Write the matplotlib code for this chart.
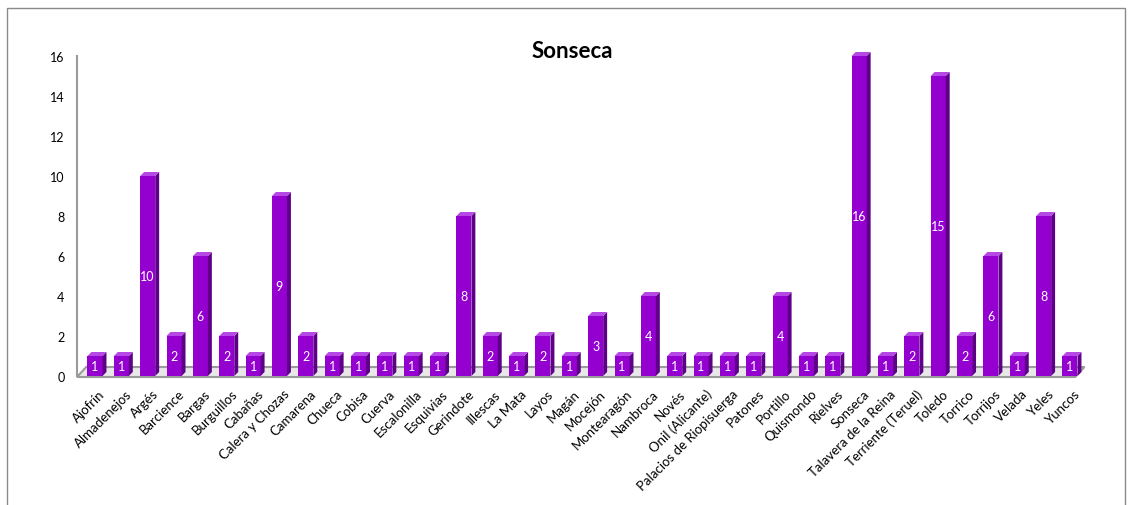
import matplotlib.pyplot as plt
from matplotlib.patches import Polygon, Rectangle
import numpy as np

# DATA
towns = ["Ajofrín", "Almadenejos", "Argés", "Barcience", "Bargas", "Burguillos",
         "Cabañas", "Calera y Chozas", "Camarena", "Chueca", "Cobisa", "Cuerva",
         "Escalonilla", "Esquivias", "Gerindote", "Illescas", "La Mata", "Layos",
         "Magán", "Mocejón", "Montearagón", "Nambroca", "Novés", "Onil (Alicante)",
         "Palacios de Riopisuerga", "Patones", "Portillo", "Quismondo", "Rielves",
         "Sonseca", "Talavera de la Reina", "Terriente (Teruel)", "Toledo", "Torrico",
         "Torrijos", "Velada", "Yeles", "Yuncos"]
counts = [1, 1, 10, 2, 6, 2, 1, 9, 2, 1, 1, 1, 1, 1, 8, 2, 1, 2, 1, 3, 1, 4, 1, 1,
          1, 1, 4, 1, 1, 16, 1, 2, 15, 2, 6, 1, 8, 1]
yticks = [0, 2, 4, 6, 8, 10, 12, 14, 16]

plt.rcParams['font.family'] = ['Lato', 'DejaVu Sans']

front = '#9400d0'
side = '#5e0088'
top = '#b648e6'

w = 0.57
dx = 0.15
dy = 0.2

fig = plt.figure(figsize=(11.36, 5.06), dpi=100)
ax = fig.add_axes([77/1136, (506-377)/506, 1008/1136, 320/506])

x = np.arange(len(towns))
ax.bar(x, counts, width=w, color=front, zorder=3, clip_on=False)
for xi, v in zip(x, counts):
	r = xi + w/2
	l = xi - w/2
	ax.add_patch(Polygon([(r, 0), (r+dx, dy), (r+dx, v+dy), (r, v)],
		closed=True, facecolor=side, edgecolor='none', zorder=3, clip_on=False))
	ax.add_patch(Polygon([(l, v), (l+dx, v+dy), (r+dx, v+dy), (r, v)],
		closed=True, facecolor=top, edgecolor='none', zorder=3, clip_on=False))
	ax.text(xi, v/2, str(v), color='white', fontsize=9, ha='center', va='center', zorder=4)

# floor
x0 = -0.683
x1 = 37.2
ax.add_patch(Polygon([(x0, -0.05), (x1, -0.05), (x1+0.35, 0.45), (x0+0.35, 0.45)],
	closed=True, facecolor='#e8e8e8', edgecolor='#9a9a9a', linewidth=1.5, zorder=2, clip_on=False))

ax.set_xlim(x0, 37.57)
ax.set_ylim(0, 16)
ax.set_xticks(x + 0.15)
ax.set_xticklabels(towns, rotation=45, ha='right', rotation_mode='anchor', fontsize=9.5)
ax.set_yticks(yticks)
ax.set_yticklabels([str(t) for t in yticks], fontsize=9)
ax.tick_params(length=0)
ax.tick_params(axis='y', pad=9)
ax.tick_params(axis='x', pad=8)
for s in ['top', 'right', 'bottom']:
	ax.spines[s].set_visible(False)
ax.spines['left'].set_color('#9a9a9a')
ax.spines['left'].set_linewidth(1.5)

fig.text(572/1136, 1 - 51/506, "Sonseca", fontsize=16, fontweight='bold', ha='center', va='center')

# outer frame
fig.patches.append(Rectangle((7/1136, -0.02), (1125-7)/1136, 1 - 9/506 + 0.02,
	transform=fig.transFigure, fill=False, edgecolor='#8a8a8a', linewidth=1))

plt.savefig("out.png", dpi=100)
